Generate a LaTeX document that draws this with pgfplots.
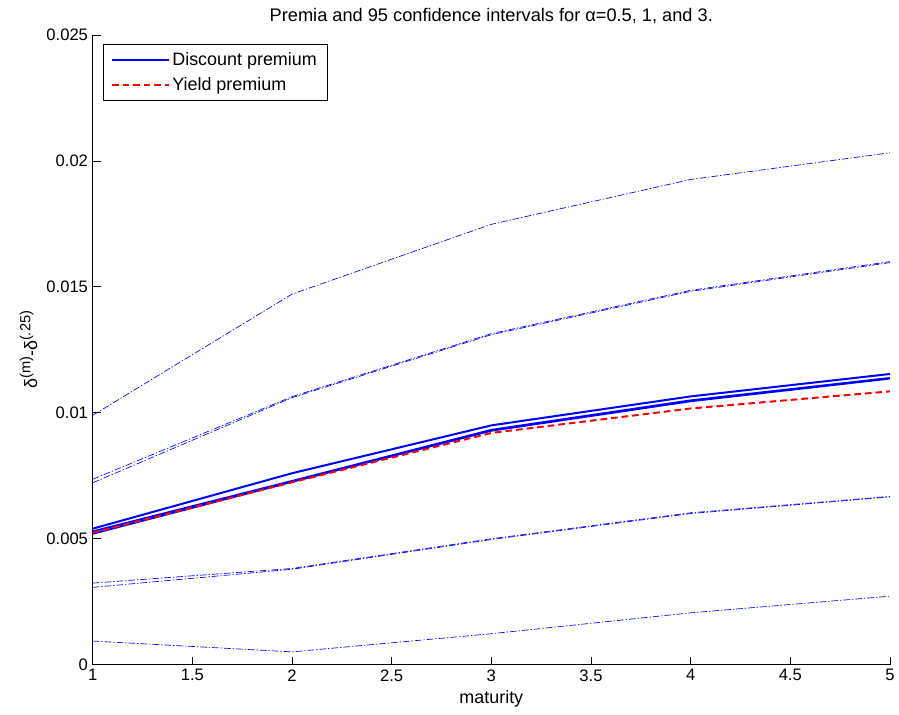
\documentclass[border=0pt]{standalone}
\usepackage{fontspec}
\setmainfont{Liberation Sans}
\usepackage{pgfplots}
\pgfplotsset{compat=1.18}

% MATLAB style colours
\definecolor{mblue}{RGB}{0,0,255}
\definecolor{mred}{RGB}{255,0,0}

\newcommand{\raisedsup}[1]{\raisebox{0.7ex}{\fontsize{11}{12}\selectfont #1}}

\pgfplotsset{
  ci/.style={mblue, line width=0.5pt, dash pattern=on 5pt off 1.5pt on 1pt off 1.5pt, forget plot},
  prem/.style={mblue, line width=1.5pt},
}

\begin{document}
\begin{tikzpicture}
\begin{axis}[
    scale only axis,
    width=600pt,
    height=474pt,
    xmin=1, xmax=5,
    ymin=0, ymax=0.025,
    xtick={1,1.5,2,2.5,3,3.5,4,4.5,5},
    ytick={0,0.005,0.01,0.015,0.02,0.025},
    scaled y ticks=false,
    yticklabel style={/pgf/number format/fixed, /pgf/number format/precision=3},
    /pgf/number format/assume math mode=true,
    every tick label/.append style={font=\fontsize{12.5}{14}\selectfont},
    axis x line*=bottom,
    axis y line*=left,
    axis line style={-, black, line width=0.5pt},
    tick align=inside,
    major tick length=6pt,
    tick style={black, line width=0.5pt},
    title={Premia and 95 confidence intervals for α=0.5, 1, and 3.},
    title style={font=\fontsize{13.7}{15}\selectfont, yshift=-1pt},
    xlabel={maturity},
    ylabel={δ\raisedsup{(m)}-δ\raisedsup{(.25)}},
    label style={font=\fontsize{13.5}{15}\selectfont},
    legend style={at={(0,1)}, anchor=north west, xshift=7.5pt, yshift=-6.75pt,
        draw=black, line width=0.5pt, font=\fontsize{13.5}{15}\selectfont,
        row sep=3pt, inner xsep=6pt, inner ysep=4.5pt},
    legend cell align=left,
    legend image code/.code={\draw[#1] plot coordinates {(0cm,0cm) (1.5cm,0cm)};},
]
\coordinate (sw) at (rel axis cs:0,0);
\coordinate (ne) at (rel axis cs:1,1);

% confidence bands
\addplot[ci] coordinates {(1,0.00990) (2,0.01471) (3,0.01748) (4,0.01926) (5,0.02032)};
\addplot[ci] coordinates {(1,0.00094) (2,0.00051) (3,0.00123) (4,0.00206) (5,0.00272)};
\addplot[ci] coordinates {(1,0.00736) (2,0.01064) (3,0.01314) (4,0.01486) (5,0.01600)};
\addplot[ci] coordinates {(1,0.00307) (2,0.00379) (3,0.00497) (4,0.00600) (5,0.00666)};
\addplot[ci] coordinates {(1,0.00722) (2,0.01060) (3,0.01310) (4,0.01482) (5,0.01596)};
\addplot[ci] coordinates {(1,0.00324) (2,0.00382) (3,0.00500) (4,0.00603) (5,0.00668)};

% discount premia
\addplot[prem] coordinates {(1,0.00540) (2,0.00760) (3,0.00950) (4,0.01065) (5,0.01154)};
\addlegendentry{Discount premium}
\addplot[prem, forget plot] coordinates {(1,0.00529) (2,0.00729) (3,0.00932) (4,0.01049) (5,0.01138)};
\addplot[prem, forget plot] coordinates {(1,0.00520) (2,0.00726) (3,0.00929) (4,0.01046) (5,0.01136)};

% yield premium
\addplot[mred, line width=1.5pt, dash pattern=on 5pt off 3pt] coordinates {(1,0.00524) (2,0.00724) (3,0.00920) (4,0.01017) (5,0.01085)};
\addlegendentry{Yield premium}
\end{axis}
\path ([shift={(-69.75pt,-37.5pt)}]sw) rectangle ([shift={(4.5pt,26.25pt)}]ne);
\end{tikzpicture}
\end{document}
